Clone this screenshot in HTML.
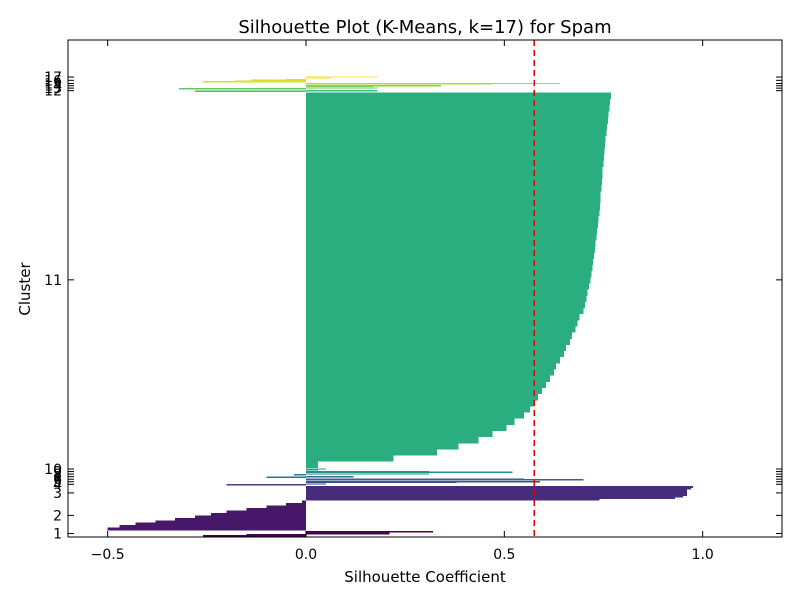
<!DOCTYPE html>
<html><head><meta charset="utf-8"><style>
body{margin:0;background:#fff;}
svg{display:block;font-family:"DejaVu Sans","Liberation Sans",sans-serif;}
</style></head><body>
<svg id="chart" width="800" height="600">
<rect width="800" height="600" fill="#fff"/>
<g id="marks" shape-rendering="crispEdges"></g>
<g id="axes"></g>
<text x="425" y="33" text-anchor="middle" font-size="18">Silhouette Plot (K-Means, k=17) for Spam</text>
<text x="425" y="582" text-anchor="middle" font-size="15">Silhouette Coefficient</text>
<text x="0" y="0" transform="translate(30,289) rotate(-90)" text-anchor="middle" font-size="15">Cluster</text>
</svg>
<script>
const clusterLabels=["1","2","3","4","5","6","7","8","9","10","11","12","13","14","15","16","17"];
const clusterSizes=[48,288,134,15,15,15,15,15,15,15,3680,15,15,12,12,30,15];
const c1=[-0.26,-0.26,-0.15,-0.15,0.21,0.21,0.21,0.21,0.32,0.32];
const c2=[-0.5,-0.47,-0.43,-0.38,-0.33,-0.28,-0.24,-0.2,-0.15,-0.1,-0.05,-0.01];
const c3=[0.74,0.93,0.95,0.96,0.96,0.96,0.96,0.96,0.97,0.975];
const c4=[-0.2,-0.2,0.05];
const c5=[0.38,0.59];
const c6=[0.7,0.55];
const c7=[-0.1,0.12];
const c8=[-0.03,0.31];
const c9=[0.52,0.31];
const c10=[0.03,0.05];
const c11=[0.03,0.22,0.33,0.385,0.435,0.47,0.505,0.525,0.55,0.565,0.575,0.585,0.595,0.605,0.615,0.625,0.63,0.64,0.65,0.655,0.665,0.67,0.68,0.685,0.69,0.70,0.703,0.707,0.71,0.714,0.717,0.72,0.722,0.724,0.726,0.728,0.73,0.732,0.734,0.736,0.738,0.74,0.741,0.742,0.743,0.745,0.746,0.747,0.748,0.75,0.751,0.752,0.754,0.755,0.757,0.759,0.761,0.763,0.765,0.767,0.769];
const c12=[-0.28,0.18];
const c13=[-0.32,0.18];
const c14=[0.17,0.34];
const c15=[0.47,0.64];
const c16=[-0.26,-0.18,-0.14,-0.05];
const c17=[0.06,0.18];
const profiles=[c1,c2,c3,c4,c5,c6,c7,c8,c9,c10,c11,c12,c13,c14,c15,c16,c17];
const avgScore=0.575;
const xTicks=[-0.5,0,0.5,1.0];
const xTickLabels=["\u22120.5","0.0","0.5","1.0"];

const L=68,R=782,T=40,B=537,XMIN=-0.6,XMAX=1.2,YMAX=4880;
const xs=v=>L+(v-XMIN)/(XMAX-XMIN)*(R-L);
const ys=v=>B-v/YMAX*(B-T);
const NS="http://www.w3.org/2000/svg";
const stops=[[0,[68,1,84]],[.1,[72,36,117]],[.2,[65,68,135]],[.3,[53,95,141]],[.4,[42,120,142]],[.5,[33,145,140]],[.6,[34,168,132]],[.7,[68,191,112]],[.8,[122,209,81]],[.9,[189,223,38]],[1,[253,231,37]]];
function viridis(t){for(let i=1;i<stops.length;i++){if(t<=stops[i][0]){const a=stops[i-1],b=stops[i],f=(t-a[0])/(b[0]-a[0]);return "rgb("+a[1].map((c,k)=>Math.round(c+(b[1][k]-c)*f)).join(",")+")";}}return "rgb(253,231,37)";}
function mk(tag,attrs,parent){const e=document.createElementNS(NS,tag);for(const k in attrs)e.setAttribute(k,attrs[k]);parent.appendChild(e);return e;}
const marks=document.getElementById('marks'),axes=document.getElementById('axes');
let yLower=10;const tickPos=[];
profiles.forEach((p,i)=>{
  const size=clusterSizes[i],col=viridis(i/16),step=size/p.length;
  const g=mk('g',{},marks);
  
  
  p.forEach((v,j)=>{
    const y0=ys(yLower+j*step),y1=ys(yLower+(j+1)*step);
    const x0=xs(Math.min(0,v)),x1=xs(Math.max(0,v));
    const r=mk('rect',{x:x0,y:y1,width:Math.max(x1-x0,0.5),height:Math.max(y0-y1+0.6,1),fill:col},g);
    
    
  });
  tickPos.push(yLower+size/2);
  yLower+=size+10;
});
const avg=mk('line',{x1:xs(avgScore),x2:xs(avgScore),y1:T,y2:B,stroke:"#e00000","stroke-width":1.4,"stroke-dasharray":"6,4"},marks);


const frame=mk('rect',{x:L,y:T,width:R-L,height:B-T,fill:"none",stroke:"#000","stroke-width":1},axes);


xTicks.forEach((v,i)=>{
  const x=xs(v);
  mk('line',{x1:x,x2:x,y1:B,y2:B-6,stroke:"#000"},axes);
  mk('line',{x1:x,x2:x,y1:T,y2:T+6,stroke:"#000"},axes);
  const t=mk('text',{x:x,y:B+22,"text-anchor":"middle","font-size":14},axes);
  t.textContent=xTickLabels[i];
  
  
});
tickPos.forEach((v,i)=>{
  const y=ys(v);
  mk('line',{x1:L,x2:L+6,y1:y,y2:y,stroke:"#000"},axes);
  mk('line',{x1:R,x2:R-6,y1:y,y2:y,stroke:"#000"},axes);
  const t=mk('text',{x:L-6,y:y+5,"text-anchor":"end","font-size":14},axes);
  t.textContent=clusterLabels[i];
  
  
});
</script>
</body></html>
